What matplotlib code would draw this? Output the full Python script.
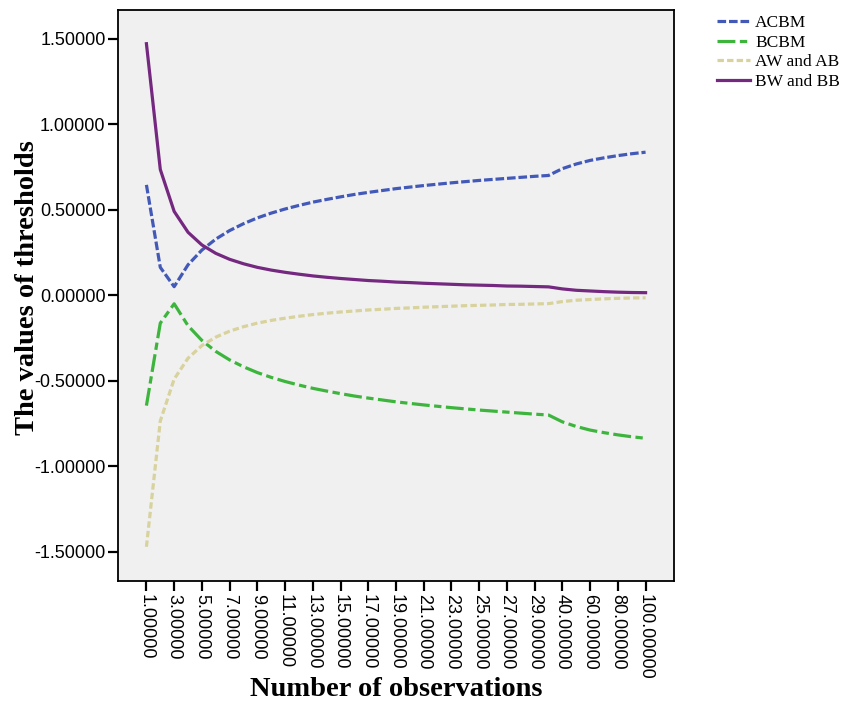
import numpy as np
import matplotlib
matplotlib.use("Agg")
import matplotlib.pyplot as plt

# number of observations (categorical axis)
n_obs = list(range(1, 31)) + [40, 50, 60, 70, 80, 90, 100]
tick_labels = ["%.5f" % n for n in n_obs]

acbm = [0.645, 0.163, 0.050, 0.178, 0.264, 0.328, 0.378, 0.418, 0.452, 0.480,
        0.504, 0.525, 0.544, 0.560, 0.575, 0.589, 0.601, 0.612, 0.623, 0.632,
        0.641, 0.649, 0.657, 0.664, 0.671, 0.677, 0.683, 0.689, 0.695, 0.700,
        0.740, 0.767, 0.788, 0.803, 0.816, 0.827, 0.836]
bcbm = [-0.645, -0.163, -0.050, -0.178, -0.264, -0.328, -0.378, -0.418, -0.452, -0.480,
        -0.504, -0.525, -0.544, -0.560, -0.575, -0.589, -0.601, -0.612, -0.623, -0.632,
        -0.641, -0.649, -0.657, -0.664, -0.671, -0.677, -0.683, -0.689, -0.695, -0.700,
        -0.740, -0.767, -0.788, -0.803, -0.816, -0.827, -0.836]
aw_ab = [-1.470, -0.735, -0.490, -0.368, -0.294, -0.245, -0.210, -0.184, -0.163, -0.147,
         -0.134, -0.123, -0.113, -0.105, -0.098, -0.092, -0.086, -0.082, -0.077, -0.074,
         -0.070, -0.067, -0.064, -0.061, -0.059, -0.057, -0.054, -0.053, -0.051, -0.049,
         -0.037, -0.029, -0.025, -0.021, -0.018, -0.016, -0.015]
bw_bb = [1.470, 0.735, 0.490, 0.368, 0.294, 0.245, 0.210, 0.184, 0.163, 0.147,
         0.134, 0.123, 0.113, 0.105, 0.098, 0.092, 0.086, 0.082, 0.077, 0.074,
         0.070, 0.067, 0.064, 0.061, 0.059, 0.057, 0.054, 0.053, 0.051, 0.049,
         0.037, 0.029, 0.025, 0.021, 0.018, 0.016, 0.015]

fig = plt.figure(figsize=(8.46, 7.05), dpi=100)
ax = fig.add_axes([118 / 846, 1 - 581 / 705, (674 - 118) / 846, (581 - 10) / 705])
ax.set_facecolor("#F0F0F0")

x = np.arange(len(n_obs))
lw = 2.3
ax.plot(x, acbm, color="#4359B8", lw=lw, ls=(0, (2.7, 0.9)), label="ACBM")
ax.plot(x, bcbm, color="#3DB53D", lw=lw, ls=(0, (5.6, 1.4, 2.3, 1.4)), label="BCBM")
ax.plot(x, aw_ab, color="#D8D29C", lw=lw, ls=(0, (2.0, 1.0)), label="AW and AB")
ax.plot(x, bw_bb, color="#74287F", lw=lw, label="BW and BB")

ax.set_xlim(-2.05, 38.05)
ax.set_ylim(-1.67, 1.667)

ax.set_xticks(x[::2])
ax.set_xticklabels(tick_labels[::2], rotation=-90, family="Liberation Sans", fontsize=13)
yt = [-1.5, -1.0, -0.5, 0.0, 0.5, 1.0, 1.5]
ax.set_yticks(yt)
ax.set_yticklabels(["%.5f" % v for v in yt], family="Liberation Sans", fontsize=13)
ax.tick_params(length=7, width=1.6, color="black", pad=2)
for s in ax.spines.values():
    s.set_linewidth(1.3)

fig.text(396 / 846, 1 - 690 / 705, "Number of observations", ha="center", va="center",
         family="Liberation Serif", weight="bold", fontsize=20.5)
fig.text(28 / 846, 1 - 288 / 705, "The values of thresholds", ha="center", va="center",
         rotation=90, family="Liberation Serif", weight="bold", fontsize=20.5)

fig.legend(loc="upper left", bbox_to_anchor=(717 / 846, 1 - 15 / 705), frameon=False,
           prop={"family": "Liberation Serif", "size": 12.5}, handlelength=1.9,
           handletextpad=0.3, labelspacing=0.2, borderaxespad=0, borderpad=0)

fig.savefig("out.png", dpi=100)
